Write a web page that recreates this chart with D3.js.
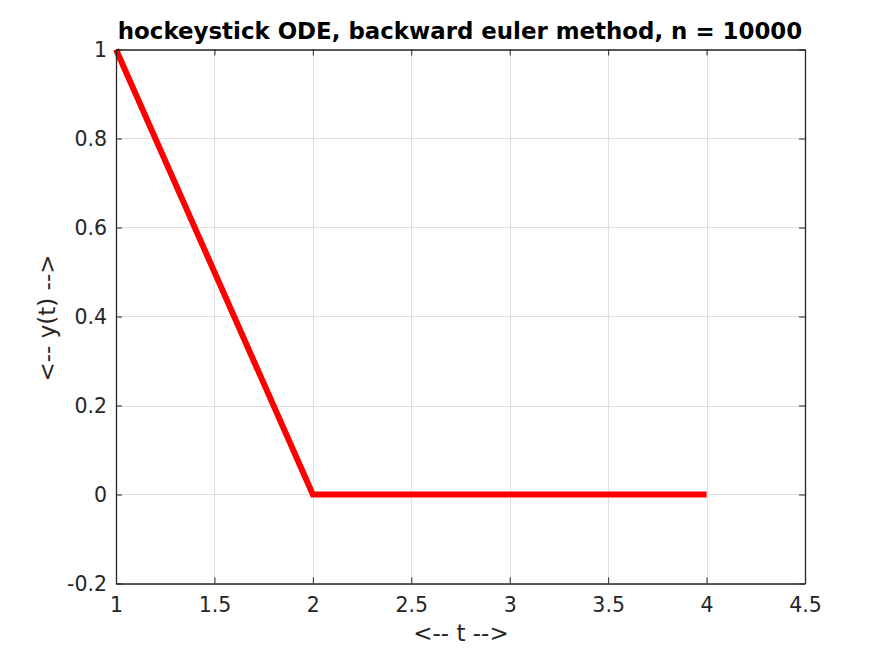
<!DOCTYPE html>
<html><head><meta charset="utf-8">
<script src="https://cdn.jsdelivr.net/npm/d3@7"></script>
<style>body{margin:0;background:#fff}svg{display:block}text{font-family:"DejaVu Sans",sans-serif}</style>
</head><body><svg id="c" width="891" height="656"></svg>
<script>
const tValues = [1, 2, 4];
const yValues = [1, 0, 0];
const xTicks = [1, 1.5, 2, 2.5, 3, 3.5, 4, 4.5];
const yTicks = [-0.2, 0, 0.2, 0.4, 0.6, 0.8, 1];
const titleText = "hockeystick ODE, backward euler method, n = 10000";
const xLabel = "<-- t -->";
const yLabel = "<-- y(t) -->";

const svg = d3.select("#c");
const L = 116, R = 805, T = 49.5, B = 583.5;
const x = d3.scaleLinear().domain([1, 4.5]).range([L, R]);
const y = d3.scaleLinear().domain([-0.2, 1]).range([B, T]);
const axC = "#262626";

// grid
const g = svg.append("g");
g.selectAll(".gx").data(xTicks).join("line")
  .attr("x1", d => Math.round(x(d)) + 0.5).attr("x2", d => Math.round(x(d)) + 0.5)
  .attr("y1", T).attr("y2", B).attr("stroke", "#dfdfdf").attr("stroke-width", 1);
g.selectAll(".gy").data(yTicks).join("line")
  .attr("y1", d => Math.round(y(d)) + 0.5).attr("y2", d => Math.round(y(d)) + 0.5)
  .attr("x1", L).attr("x2", R).attr("stroke", "#dfdfdf").attr("stroke-width", 1);

// data line
const data = tValues.map((t, i) => [t, yValues[i]]);
svg.append("path").datum(data)
  .attr("d", d3.line().x(d => x(d[0])).y(d => y(d[1])))
  .attr("fill", "none").attr("stroke", "#ff0000").attr("stroke-width", 6)
  .attr("stroke-linejoin", "miter").attr("stroke-linecap", "butt");

// axes
const fmt = d => String(d);
const ax = svg.append("g").attr("transform", `translate(0,${B})`)
  .call(d3.axisBottom(x).tickValues(xTicks).tickFormat(fmt).tickSizeInner(-6).tickSizeOuter(0).tickPadding(14));
const axT = svg.append("g").attr("transform", `translate(0,${T})`)
  .call(d3.axisTop(x).tickValues(xTicks).tickFormat("").tickSizeInner(-6).tickSizeOuter(0));
const ay = svg.append("g").attr("transform", `translate(${L},0)`)
  .call(d3.axisLeft(y).tickValues(yTicks).tickFormat(fmt).tickSizeInner(-6).tickSizeOuter(0).tickPadding(9));
const ayR = svg.append("g").attr("transform", `translate(${R},0)`)
  .call(d3.axisRight(y).tickValues(yTicks).tickFormat("").tickSizeInner(-6).tickSizeOuter(0));
[ax, axT, ay, ayR].forEach(a => {
  a.select(".domain").attr("stroke", axC).attr("stroke-width", 1.3);
  a.selectAll(".tick line").attr("stroke", axC);
  a.selectAll("text").attr("fill", axC).style("font-size", "20.5px").style("font-family", "DejaVu Sans");
});
ax.selectAll("text").attr("dy", "0.71em");

svg.append("text").attr("x", 460).attr("y", 39).attr("text-anchor", "middle")
  .style("font-size", "22.9px").style("font-weight", "bold").attr("fill", "#000").text(titleText);
svg.append("text").attr("x", 461).attr("y", 641).attr("text-anchor", "middle")
  .style("font-size", "23px").attr("fill", axC).text(xLabel);
svg.append("text").attr("transform", "translate(55,318) rotate(-90)").attr("text-anchor", "middle")
  .style("font-size", "23px").attr("fill", axC).text(yLabel);
</script></body></html>
